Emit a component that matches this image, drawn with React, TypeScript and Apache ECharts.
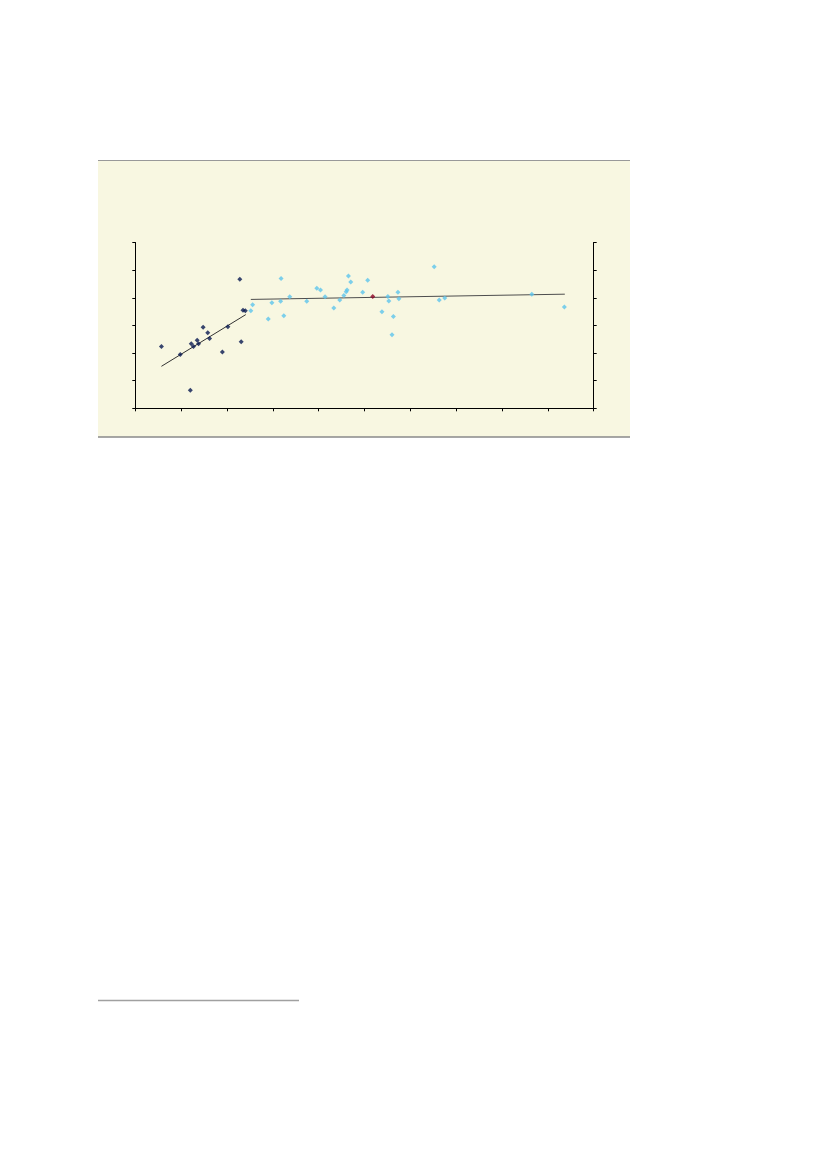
import * as echarts from "echarts";
import { useEffect, useRef } from "react";

/** 前段（深蓝）观测点：[x, y]。 */
const EARLY_POINTS: [number, number][] = [
  [5.7, 22.4],
  [12.0, 6.5],
  [9.8, 19.5],
  [12.2, 23.4],
  [12.7, 22.4],
  [13.5, 24.6],
  [13.8, 23.4],
  [14.8, 29.3],
  [15.8, 27.3],
  [16.2, 25.3],
  [19.0, 20.4],
  [20.2, 29.5],
  [22.8, 46.7],
  [23.1, 24.1],
  [23.5, 35.5],
  [24.0, 35.3],
];

/** 后段（浅蓝）观测点。 */
const LATE_POINTS: [number, number][] = [
  [25.2, 35.3],
  [25.6, 37.5],
  [29.0, 32.3],
  [29.8, 38.2],
  [31.8, 47.0],
  [31.7, 38.7],
  [32.4, 33.5],
  [33.7, 40.4],
  [37.4, 38.7],
  [39.6, 43.4],
  [40.4, 42.8],
  [41.4, 40.4],
  [43.3, 36.3],
  [44.6, 39.2],
  [45.5, 40.8],
  [46.0, 42.2],
  [46.2, 42.8],
  [46.5, 47.9],
  [47.0, 45.7],
  [49.6, 42.0],
  [50.7, 46.3],
  [53.8, 34.9],
  [55.1, 40.5],
  [55.3, 38.8],
  [56.0, 26.6],
  [56.3, 33.2],
  [57.3, 42.0],
  [57.5, 39.6],
  [65.2, 51.2],
  [66.3, 39.2],
  [67.5, 39.9],
  [86.5, 41.3],
  [93.6, 36.7],
];

/** 高亮点（红）。 */
const HIGHLIGHT_POINTS: [number, number][] = [[51.8, 40.5]];

/** 两段趋势线端点。 */
const EARLY_TREND: [number, number][] = [
  [5.7, 15.2],
  [24.1, 33.9],
];
const LATE_TREND: [number, number][] = [
  [25.2, 39.4],
  [93.7, 41.3],
];

const X_MIN = 0;
const X_MAX = 100;
const X_STEP = 10;
const Y_MIN = 0;
const Y_MAX = 60;
const Y_STEP = 10;

const AXIS_COMMON = {
  axisLine: { show: true, lineStyle: { color: "#000", width: 1 } },
  axisTick: { show: true, length: 3, lineStyle: { color: "#000", width: 1 } },
  axisLabel: { show: false },
  splitLine: { show: false },
};

export default function App() {
  const ref = useRef<HTMLDivElement | null>(null);

  useEffect(() => {
    document.body.style.margin = "0";
    const el = ref.current;
    if (!el) {
      return undefined;
    }
    const chart = echarts.init(el, undefined, { renderer: "svg" });
    chart.setOption({
      animation: false,
      backgroundColor: "#ffffff",
      graphic: [
        {
          type: "rect",
          z: -10,
          shape: { x: 98, y: 160, width: 532, height: 277 },
          style: { fill: "#f8f7e1" },
        },
        {
          type: "line",
          z: -9,
          shape: { x1: 98, y1: 160.5, x2: 630, y2: 160.5 },
          style: { stroke: "#999999", lineWidth: 1.2 },
        },
        {
          type: "line",
          z: -9,
          shape: { x1: 98, y1: 437, x2: 630, y2: 437 },
          style: { stroke: "#8a8a8a", lineWidth: 1.3 },
        },
        {
          type: "line",
          shape: { x1: 98, y1: 1000.5, x2: 299, y2: 1000.5 },
          style: { stroke: "#a0a0a0", lineWidth: 1.3 },
        },
      ],
      grid: {
        left: 135.3,
        top: 242.5,
        width: 458.4,
        height: 165.8,
        containLabel: false,
      },
      xAxis: {
        type: "value",
        min: X_MIN,
        max: X_MAX,
        interval: X_STEP,
        ...AXIS_COMMON,
      },
      yAxis: [
        {
          type: "value",
          position: "left",
          min: Y_MIN,
          max: Y_MAX,
          interval: Y_STEP,
          ...AXIS_COMMON,
        },
        {
          type: "value",
          position: "right",
          min: Y_MIN,
          max: Y_MAX,
          interval: Y_STEP,
          ...AXIS_COMMON,
        },
      ],
      series: [
        {
          type: "line",
          data: EARLY_TREND,
          symbol: "none",
          z: 1,
          lineStyle: { color: "#333333", width: 1 },
        },
        {
          type: "line",
          data: LATE_TREND,
          symbol: "none",
          z: 1,
          lineStyle: { color: "#4d4d4d", width: 1 },
        },
        {
          type: "scatter",
          data: EARLY_POINTS,
          symbol: "diamond",
          symbolSize: 5,
          z: 3,
          itemStyle: { color: "#081850" },
        },
        {
          type: "scatter",
          data: LATE_POINTS,
          symbol: "diamond",
          symbolSize: 5,
          z: 3,
          itemStyle: { color: "#5cc4ec" },
        },
        {
          type: "scatter",
          data: HIGHLIGHT_POINTS,
          symbol: "diamond",
          symbolSize: 5,
          z: 4,
          itemStyle: { color: "#8b0023" },
        },
      ],
    });
    return () => {
      chart.dispose();
    };
  }, []);

  return <div ref={ref} style={{ width: 827, height: 1169 }} />;
}
